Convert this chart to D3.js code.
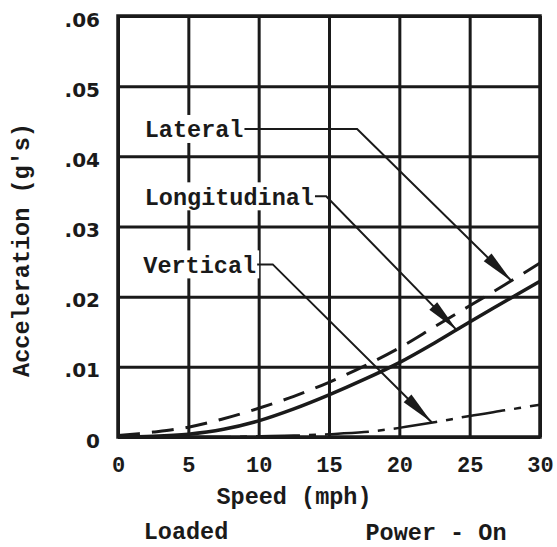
<!DOCTYPE html>
<html>
<head>
<meta charset="utf-8">
<script src="https://cdn.jsdelivr.net/npm/d3@7"></script>
<style>
  body { margin: 0; background: #fff; }
  svg { display: block; }
</style>
</head>
<body>
<div id="chart"></div>
<script>
// speed (mph) and acceleration (g's)
const speed = [0, 2.5, 5, 7.5, 10, 12.5, 15, 17.5, 20, 22.5, 25, 27.5, 30];
const lateral = [0.0002, 0.0007, 0.0014, 0.0026, 0.0041, 0.0058, 0.0078, 0.0101, 0.0127, 0.0157, 0.0187, 0.0217, 0.0248];
const longitudinal = [0, 0.0001, 0.0004, 0.0011, 0.0023, 0.004, 0.006, 0.0082, 0.0106, 0.0134, 0.0164, 0.0193, 0.0222];
const vertical = [0, 0, 0, 0, 0.0001, 0.0002, 0.0004, 0.0007, 0.0013, 0.0021, 0.003, 0.0038, 0.0046];

const xTicks = [0, 5, 10, 15, 20, 25, 30];
const xTickLabels = ['0', '5', '10', '15', '20', '25', '30'];
const yTicks = [0, 0.01, 0.02, 0.03, 0.04, 0.05, 0.06];
const yTickLabels = ['0', '.01', '.02', '.03', '.04', '.05', '.06'];

// callouts: label position, elbow speed, arrow tip (speed, accel)
const callouts = [
  { name: 'Lateral', lx: 1.9, ly: 0.0439, elbow: 17.0, tx: 28.0, ty: 0.0222 },
  { name: 'Longitudinal', lx: 1.9, ly: 0.0343, elbow: 14.8, tx: 24.1, ty: 0.0152 },
  { name: 'Vertical', lx: 1.8, ly: 0.0246, elbow: 11.0, tx: 22.3, ty: 0.0021 }
];

const svgwidth = 557;
const svgheight = 547;
const margin = { left: 118, right: 17, top: 16, bottom: 110 };
const width = svgwidth - margin.left - margin.right;
const height = svgheight - margin.top - margin.bottom;
const ink = '#1a1a1a';
const mono = '"Liberation Mono", "Courier New", monospace';

const svg = d3.select('#chart').append('svg')
  .attr('width', svgwidth)
  .attr('height', svgheight);
const g = svg.append('g').attr('transform', `translate(${margin.left},${margin.top})`);

const x = d3.scaleLinear().domain([0, 30]).range([0, width]);
const y = d3.scaleLinear().domain([0, 0.06]).range([height, 0]);

// grid
g.append('g')
  .call(d3.axisBottom(x).tickValues(xTicks).tickSize(height).tickFormat(''))
  .call(s => s.select('.domain').remove())
  .selectAll('line').attr('stroke', ink).attr('stroke-width', 3);
g.append('g')
  .call(d3.axisRight(y).tickValues(yTicks).tickSize(width).tickFormat(''))
  .call(s => s.select('.domain').remove())
  .selectAll('line').attr('stroke', ink).attr('stroke-width', 3);

// tick labels
g.append('g')
  .attr('transform', `translate(0,${height})`)
  .call(d3.axisBottom(x).tickValues(xTicks).tickSize(0).tickPadding(19)
    .tickFormat((d, i) => xTickLabels[i]))
  .call(s => s.select('.domain').remove())
  .selectAll('text')
  .attr('font-family', mono)
  .attr('font-weight', 'bold')
  .attr('font-size', 22)
  .attr('fill', ink);
g.append('g')
  .call(d3.axisLeft(y).tickValues(yTicks).tickSize(0).tickPadding(18)
    .tickFormat((d, i) => yTickLabels[i]))
  .call(s => s.select('.domain').remove())
  .selectAll('text')
  .attr('font-family', '"DejaVu Sans", sans-serif')
  .attr('font-weight', 'bold')
  .attr('font-size', 20)
  .attr('dy', '0.5em')
  .attr('fill', ink);

// curves
const line = d3.line()
  .x((d, i) => x(speed[i]))
  .y(d => y(d))
  .curve(d3.curveCatmullRom);

g.append('path')
  .attr('d', line(vertical))
  .attr('fill', 'none')
  .attr('stroke', ink)
  .attr('stroke-width', 2.5)
  .attr('stroke-dasharray', '44,9,7,9');
g.append('path')
  .attr('d', line(lateral))
  .attr('fill', 'none')
  .attr('stroke', ink)
  .attr('stroke-width', 3)
  .attr('stroke-dasharray', '22,12');
g.append('path')
  .attr('d', line(longitudinal))
  .attr('fill', 'none')
  .attr('stroke', ink)
  .attr('stroke-width', 3.5);

// frame
g.append('rect')
  .attr('width', width)
  .attr('height', height)
  .attr('fill', 'none')
  .attr('stroke', ink)
  .attr('stroke-width', 3.5);

// callout labels, leaders and arrows
callouts.forEach((c) => {
  const lx = x(c.lx);
  const ly = y(c.ly);
  const cg = g.append('g').attr('class', 'callout');
  const bg = cg.append('rect').attr('fill', '#fff');
  const label = cg.append('text')
    .attr('x', lx)
    .attr('y', ly)
    .attr('dy', '0.35em')
    .attr('font-family', mono)
    .attr('font-weight', 'bold')
    .attr('font-size', 23.5)
    .attr('fill', ink)
    .text(c.name);
  const tw = label.node().getComputedTextLength();
  bg.attr('x', lx - 3)
    .attr('y', ly - 14)
    .attr('width', tw + 6)
    .attr('height', 28);

  const ex = x(c.elbow);
  const tx = x(c.tx);
  const ty = y(c.ty);
  cg.append('path')
    .attr('d', `M${lx + tw + 1},${ly}L${ex},${ly}L${tx},${ty}`)
    .attr('fill', 'none')
    .attr('stroke', ink)
    .attr('stroke-width', 2);
  const ang = Math.atan2(ty - ly, tx - ex);
  const len = 34;
  const hw = 5.5;
  const bx = tx - len * Math.cos(ang);
  const by = ty - len * Math.sin(ang);
  const px = -Math.sin(ang) * hw;
  const py = Math.cos(ang) * hw;
  cg.append('path')
    .attr('d', `M${tx},${ty}L${bx + px},${by + py}L${bx - px},${by - py}Z`)
    .attr('fill', ink);
});

// axis titles
svg.append('text')
  .attr('x', 294)
  .attr('y', 504)
  .attr('text-anchor', 'middle')
  .attr('font-family', mono)
  .attr('font-weight', 'bold')
  .attr('font-size', 23.5)
  .attr('fill', ink)
  .text('Speed (mph)');
svg.append('text')
  .attr('transform', 'translate(29,250) rotate(-90)')
  .attr('text-anchor', 'middle')
  .attr('font-family', mono)
  .attr('font-weight', 'bold')
  .attr('font-size', 23.5)
  .attr('fill', ink)
  .text("Acceleration (g's)");
svg.append('text')
  .attr('x', 186)
  .attr('y', 539)
  .attr('text-anchor', 'middle')
  .attr('font-family', mono)
  .attr('font-weight', 'bold')
  .attr('font-size', 23.5)
  .attr('fill', ink)
  .text('Loaded');
svg.append('text')
  .attr('x', 436)
  .attr('y', 540)
  .attr('text-anchor', 'middle')
  .attr('font-family', mono)
  .attr('font-weight', 'bold')
  .attr('font-size', 23.5)
  .attr('fill', ink)
  .text('Power - On');
</script>
</body>
</html>
